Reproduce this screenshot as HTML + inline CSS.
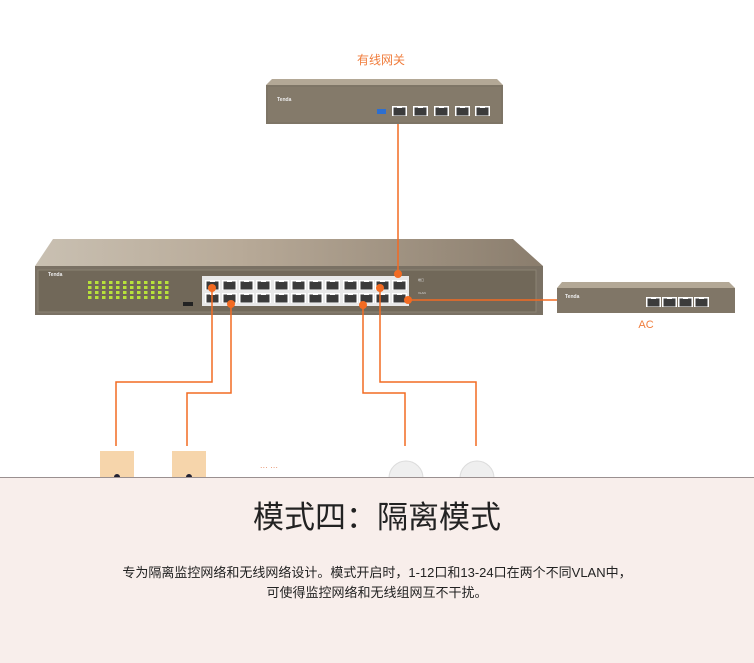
<!DOCTYPE html>
<html><head><meta charset="utf-8"><style>
html,body{margin:0;padding:0;background:#fff;width:754px;height:662px;overflow:hidden;font-family:"Liberation Sans","Noto Sans CJK SC",sans-serif}
.panel{position:absolute;left:0;top:477px;width:754px;height:185px;background:#f8eeeb;border-top:1px solid #9a9090}
.t{position:absolute;left:0;width:754px;text-align:center;color:#222}
</style></head><body>
<svg width="754" height="662" style="position:absolute;left:0;top:0">
<defs>
<g id="p"><rect x="0" y="0" width="15" height="10" fill="#fff"/><rect x="1.5" y="1.5" width="12" height="8" fill="#3b3b3b"/><rect x="5" y="0" width="5" height="2" fill="#fff"/></g>
<linearGradient id="tg" x1="0" x2="1"><stop offset="0" stop-color="#c9c0b2"/><stop offset="0.4" stop-color="#b8aa98"/><stop offset="1" stop-color="#8a7d6d"/></linearGradient>
<pattern id="led" x="88" y="281" width="7" height="5" patternUnits="userSpaceOnUse"><rect x="0" y="0" width="3.5" height="3" fill="#b8e23a"/></pattern>
</defs>
<text x="381" y="64" font-size="12" fill="#f07d3c" text-anchor="middle" font-family="Liberation Sans,Noto Sans CJK SC,sans-serif">有线网关</text>
<!-- gateway -->
<polygon points="272,79 497,79 503,85 266,85" fill="#b3a896"/>
<rect x="266" y="85" width="237" height="39" fill="#7e7566"/>
<rect x="268" y="87" width="233" height="35" fill="#847a6a"/>
<text x="277" y="101" font-size="5" fill="#eee" font-weight="bold">Tenda</text>
<rect x="377" y="109" width="9" height="5" fill="#2d6fd0"/>
<g transform="translate(392,106)"><use href="#p"/></g>
<g transform="translate(413,106)"><use href="#p"/></g>
<g transform="translate(434,106)"><use href="#p"/></g>
<g transform="translate(455,106)"><use href="#p"/></g>
<g transform="translate(475,106)"><use href="#p"/></g>
<!-- switch -->
<polygon points="53,239 513,239 543,266 35,266" fill="url(#tg)"/>
<rect x="35" y="266" width="508" height="49" fill="#7a7164"/>
<rect x="38" y="270" width="498" height="42" fill="#716859" stroke="#8c8374" stroke-width="1"/>
<text x="48" y="276" font-size="5" fill="#eee" font-weight="bold">Tenda</text>
<rect x="88" y="281" width="84" height="20" fill="url(#led)"/>
<rect x="183" y="302" width="10" height="4" fill="#222"/>
<rect x="202" y="276" width="207" height="30" fill="#e8e8e8"/>
<g>
<use href="#p" x="205" y="280"/><use href="#p" x="222" y="280"/><use href="#p" x="239" y="280"/><use href="#p" x="256" y="280"/>
<use href="#p" x="274" y="280"/><use href="#p" x="291" y="280"/><use href="#p" x="308" y="280"/><use href="#p" x="325" y="280"/>
<use href="#p" x="343" y="280"/><use href="#p" x="359" y="280"/><use href="#p" x="375" y="280"/><use href="#p" x="392" y="280"/>
<use href="#p" x="205" y="293"/><use href="#p" x="222" y="293"/><use href="#p" x="239" y="293"/><use href="#p" x="256" y="293"/>
<use href="#p" x="274" y="293"/><use href="#p" x="291" y="293"/><use href="#p" x="308" y="293"/><use href="#p" x="325" y="293"/>
<use href="#p" x="343" y="293"/><use href="#p" x="359" y="293"/><use href="#p" x="375" y="293"/><use href="#p" x="392" y="293"/>
</g>
<text x="418" y="281" font-size="3" fill="#ddd">端口</text>
<text x="418" y="294" font-size="3" fill="#ddd">VLAN</text>
<!-- AC -->
<polygon points="562,282 729,282 735,288 557,288" fill="#b3a896"/>
<rect x="557" y="288" width="178" height="25" fill="#807667"/>
<text x="565" y="298" font-size="5" fill="#eee" font-weight="bold">Tenda</text>
<use href="#p" x="646" y="297"/><use href="#p" x="662" y="297"/><use href="#p" x="678" y="297"/><use href="#p" x="694" y="297"/>
<text x="646" y="328" font-size="11" fill="#f07d3c" text-anchor="middle">AC</text>
<!-- lines -->
<g stroke="#f26b22" stroke-width="1.5" fill="none">
<polyline points="398,124 398,274"/>
<polyline points="408,300 557,300"/>
<polyline points="212,288 212,382 116,382 116,446"/>
<polyline points="231,304 231,393 187,393 187,446"/>
<polyline points="363,305 363,393 405,393 405,446"/>
<polyline points="380,288 380,382 476,382 476,446"/>
</g>
<g fill="#f26b22">
<circle cx="212" cy="288" r="4"/><circle cx="231" cy="304" r="4"/><circle cx="363" cy="305" r="4"/><circle cx="380" cy="288" r="4"/><circle cx="398" cy="274" r="4"/><circle cx="408" cy="300" r="4"/>
</g>
<!-- end devices -->
<rect x="100" y="451" width="34" height="27" fill="#f6d5ab"/>
<rect x="172" y="451" width="34" height="27" fill="#f6d5ab"/>
<circle cx="117" cy="477" r="3" fill="#223"/><circle cx="189" cy="477" r="3" fill="#223"/>
<text x="269" y="470" font-size="8" fill="#e07a50" text-anchor="middle">··· ···</text>
<path d="M389,478 A17,17 0 0 1 423,478 Z" fill="#efefef" stroke="#dcdcdc"/>
<path d="M460,478 A17,17 0 0 1 494,478 Z" fill="#efefef" stroke="#dcdcdc"/>
</svg>
<div class="panel"></div>
<div class="t" style="top:498px;font-size:31px;line-height:40px">模式四：隔离模式</div>
<div class="t" style="top:563px;font-size:13px;line-height:20px">专为隔离监控网络和无线网络设计。模式开启时，1-12口和13-24口在两个不同VLAN中，</div>
<div class="t" style="top:583px;font-size:13px;line-height:20px">可使得监控网络和无线组网互不干扰。</div>
</body></html>
